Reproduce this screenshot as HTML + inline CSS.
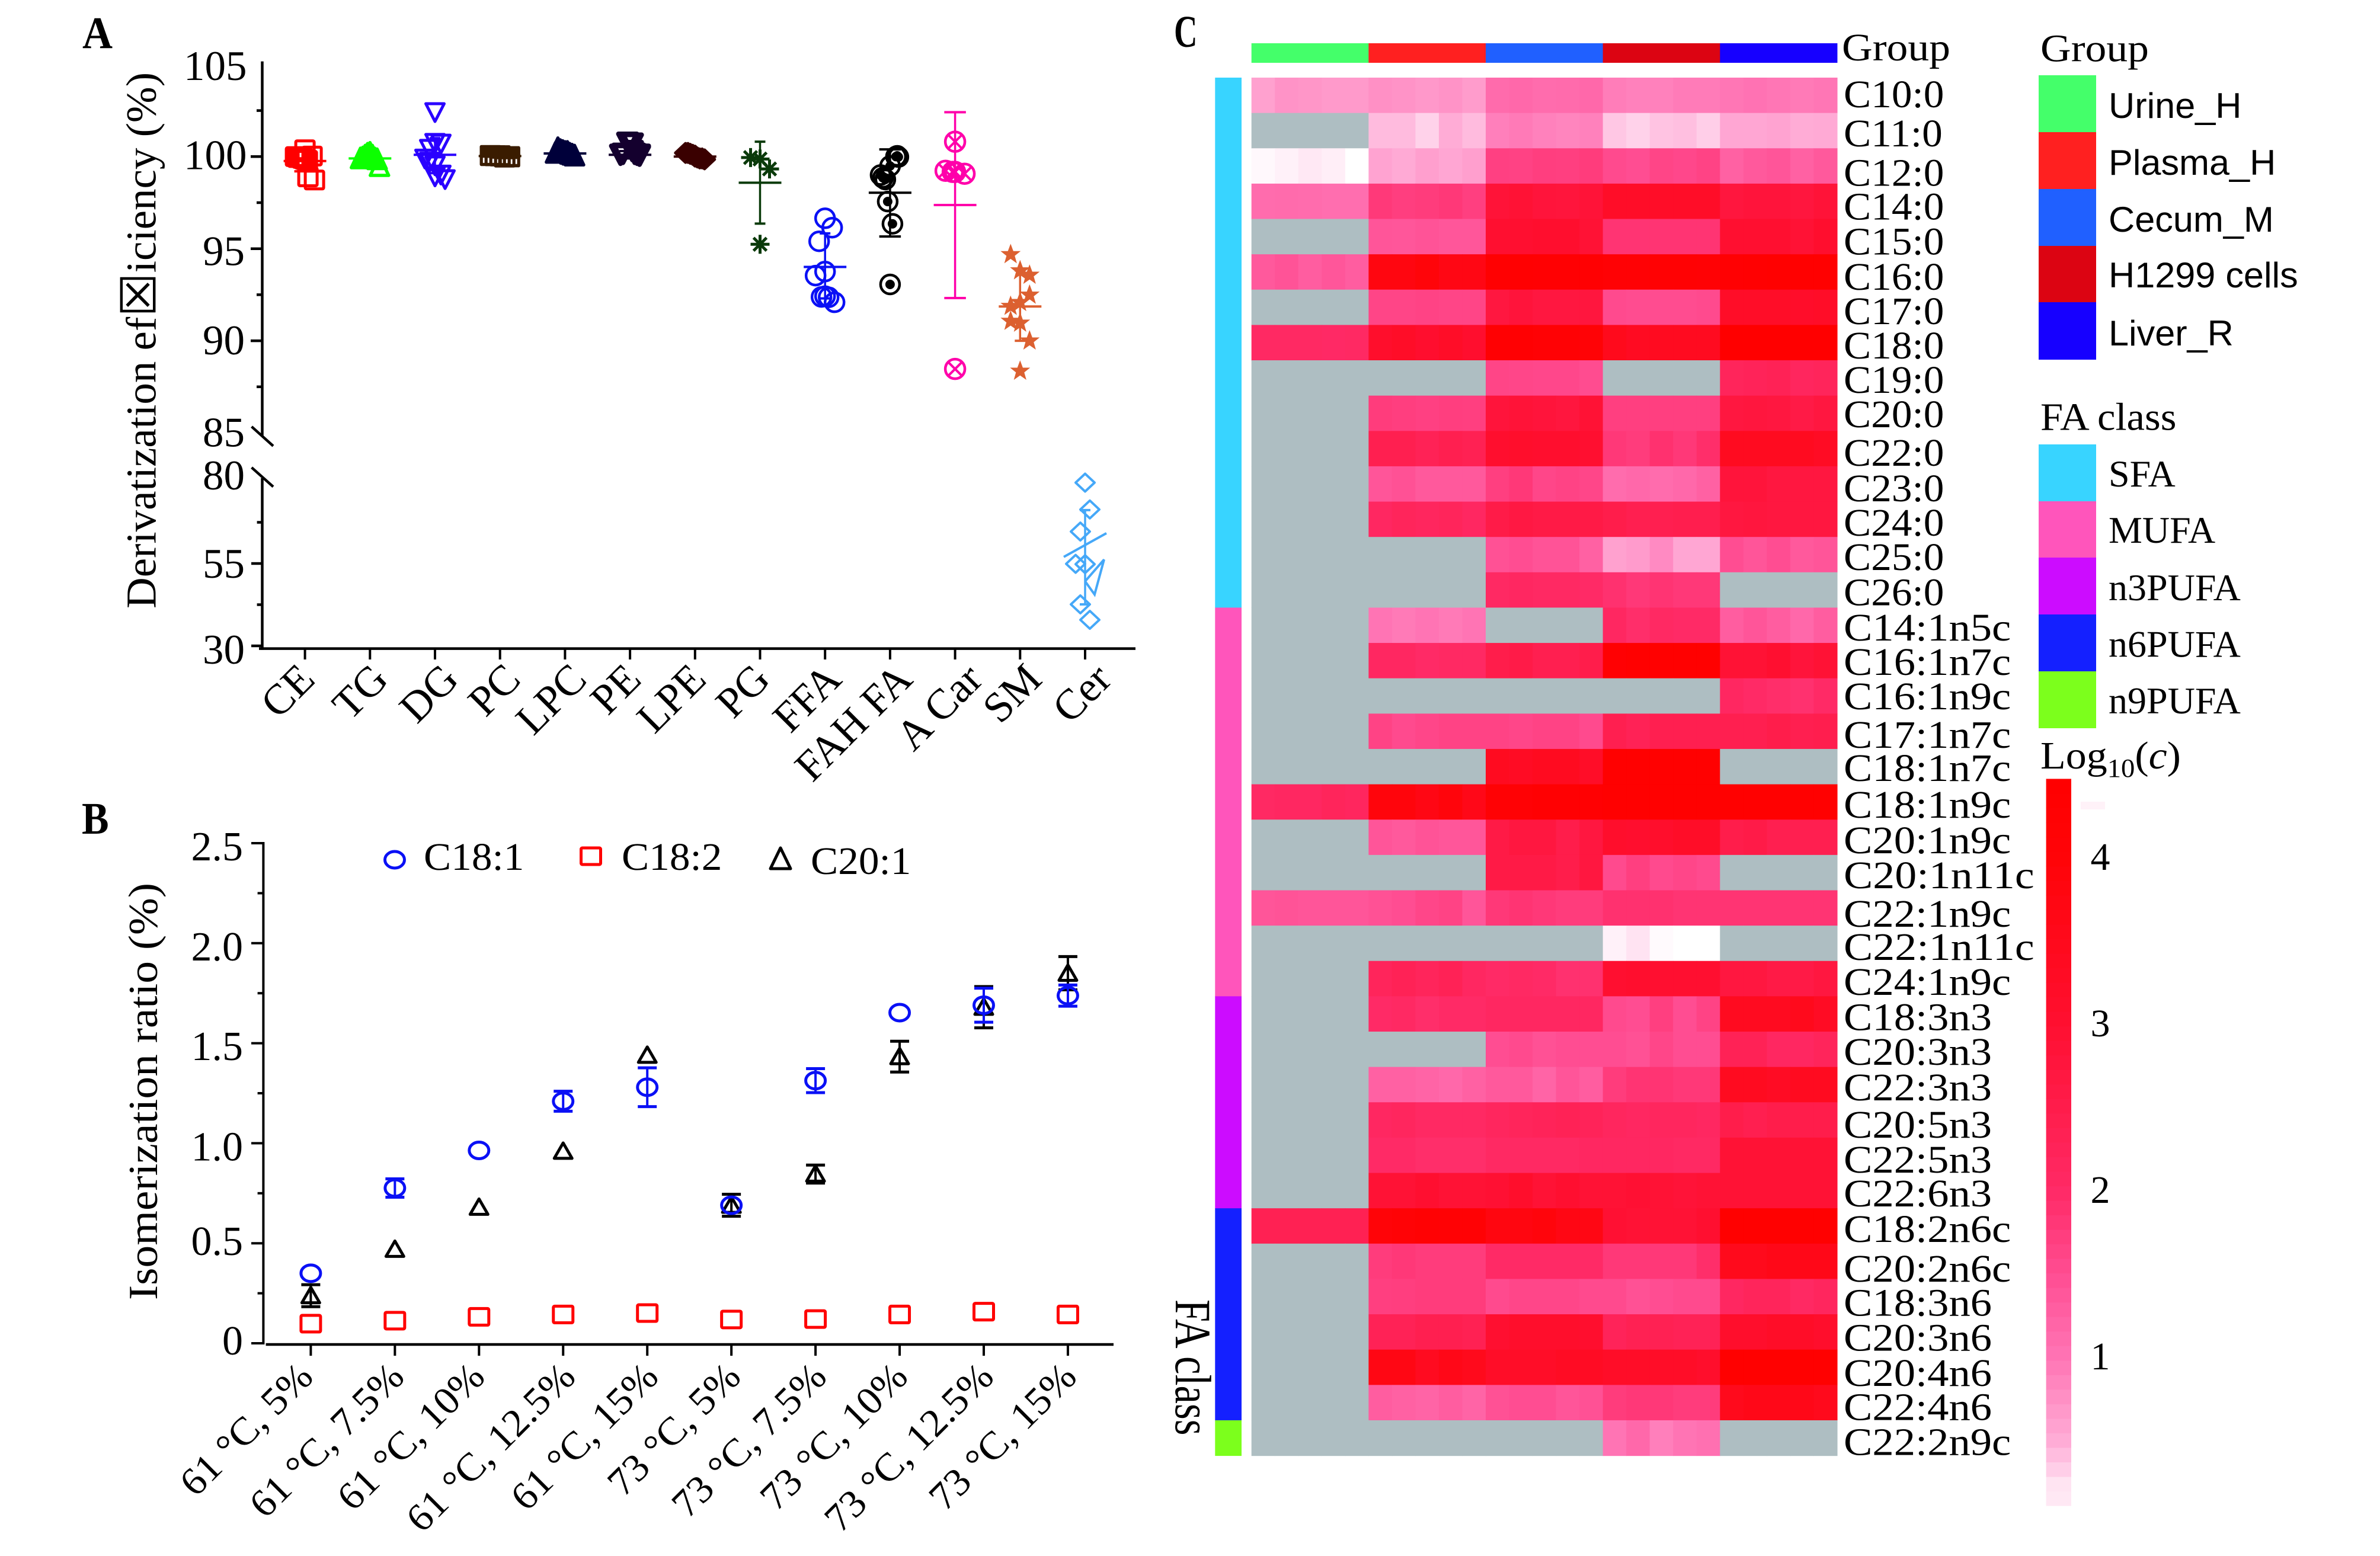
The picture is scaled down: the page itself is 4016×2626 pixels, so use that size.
<!DOCTYPE html>
<html lang="en">
<head>
<meta charset="utf-8">
<title>Derivatization efficiency, isomerization ratio and fatty acid heatmap</title>
<style>
html,body{margin:0;padding:0;background:#fff}
svg{display:block;font-family:"Liberation Serif","DejaVu Serif",serif;fill:#000}
</style>
</head>
<body>
<svg id="fig" xmlns="http://www.w3.org/2000/svg" width="4016" height="2626" viewBox="0 0 4016 2626">
<rect width="4016" height="2626" fill="#fff"/>

<text transform="translate(139,81) scale(.93,1)" font-size="76" font-weight="bold">A</text>
<text transform="translate(138,1407) scale(.9,1)" font-size="76" font-weight="bold">B</text>
<text transform="translate(1981,79) scale(.72,1)" font-size="76" font-weight="bold">C</text>

<g id="panelA"></g>
<text transform="translate(262.6,1027) rotate(-90)" font-size="72" textLength="905" lengthAdjust="spacingAndGlyphs">Derivatization ef<tspan font-size="82" font-family="'DejaVu Sans',sans-serif">☒</tspan>iciency (%)</text>

<g id="panelB"></g>
<text transform="translate(265,2194) rotate(-90)" font-size="70" textLength="704" lengthAdjust="spacingAndGlyphs">Isomerization ratio (%)</text>
<text transform="translate(715,1468) scale(1.05,1)" font-size="66">C18:1</text>
<text transform="translate(1049,1468) scale(1.05,1)" font-size="66">C18:2</text>
<text transform="translate(1368,1475) scale(1.05,1)" font-size="66">C20:1</text>

<g id="panelC"></g>
<text transform="translate(3108,102) scale(1.085,1)" font-size="66">Group</text>
<text transform="translate(1984,2193) rotate(90) scale(1.04,1.3)" font-size="66">FA class</text>

<text transform="translate(3443,103.6) scale(1.085,1)" font-size="66">Group</text>
<text transform="translate(3558,199) scale(1.02,1)" font-size="60" font-family="'Liberation Sans',sans-serif">Urine_H</text>
<text transform="translate(3558,295) scale(1.02,1)" font-size="60" font-family="'Liberation Sans',sans-serif">Plasma_H</text>
<text transform="translate(3558,391) scale(1.02,1)" font-size="60" font-family="'Liberation Sans',sans-serif">Cecum_M</text>
<text transform="translate(3558,485) scale(1.02,1)" font-size="60" font-family="'Liberation Sans',sans-serif">H1299 cells</text>
<text transform="translate(3558,583) scale(1.02,1)" font-size="60" font-family="'Liberation Sans',sans-serif">Liver_R</text>

<text transform="translate(3443,725.5) scale(1.04,1)" font-size="66">FA class</text>
<text transform="translate(3558,821)" font-size="64">SFA</text>
<text transform="translate(3558,916)" font-size="64">MUFA</text>
<text transform="translate(3558,1013)" font-size="64">n3PUFA</text>
<text transform="translate(3558,1108.6)" font-size="64">n6PUFA</text>
<text transform="translate(3558,1204)" font-size="64">n9PUFA</text>

<text transform="translate(3443,1297) scale(1.06,1)" font-size="66">Log<tspan font-size="44" dy="14">10</tspan><tspan dy="-14">(</tspan><tspan font-style="italic">c</tspan>)</text>
<rect x="3511" y="1353" width="41" height="13" fill="#fff2f8"/>
<text x="3544" y="1468" text-anchor="middle" font-size="66">4</text>
<text x="3544" y="1749" text-anchor="middle" font-size="66">3</text>
<text x="3544" y="2030" text-anchor="middle" font-size="66">2</text>
<text x="3544" y="2311" text-anchor="middle" font-size="66">1</text>
</svg>

<script>
/* ---------- Panel A data ---------- */
const categories=['CE','TG','DG','PC','LPC','PE','LPE','PG','FFA','FAH FA','A Car','SM','Cer'];
const valuesCE=[100.37,100.03,100.0,99.95,99.95,99.9,99.85,99.8,98.9,98.73];
const slotsCE=[0,3,-4,-3,-2,-1,0,1,1.25,4];
const valuesTG=[99.85,99.9,100.0,100.1,100.15,100.1,100.0,99.85,99.8,99.43];
const slotsTG=[-4,-3,-2,-1,0,0,1,2,3,4];
const valuesDG=[102.39,100.72,100.68,100.4,99.87,99.7,99.5,99.0,98.9,98.75];
const slotsDG=[0,0,2.5,-2.25,-4.25,-2.25,0,2.5,0,4.25];
const valuesPC=[100.06,100.05,100.04,100.05,100.05,100.03,99.98,99.97,100.0,99.98];
const slotsPC=[-4,-4,-2,-2,0,0,2,2,4,4];
const valuesLPC=[100.15,100.3,100.4,100.3,100.25,100.2,100.2,100.1,100.05,100.0];
const slotsLPC=[-4,-3,-3,-2,-1,0,1,2,3,4];
const valuesPE=[100.1,100.15,100.75,100.7,100.7,100.3,100.15,100.1,100.1,100.05];
const slotsPE=[-4,-3,-1,0,1,1,2,3,4,4];
const valuesLPE=[100.2,100.2,100.15,100.1,100.05,100.0,99.95,99.9,99.9,99.85];
const slotsLPE=[-4,-3,-2,-1,0,0,1,2,3,4];
const valuesPG=[99.95,99.87,99.33,95.24];
const slotsPG=[-4,0,4,0];
const valuesFFA=[96.65,96.14,95.4,93.76,93.54,92.38,92.42,92.36,92.09];
const slotsFFA=[0,3,-2.5,0,-4,-1.5,0,1.5,4];
const valuesFAH=[100.04,100.0,99.98,99.49,99.0,98.76,98.85,97.56,96.35,93.06];
const slotsFAH=[3,2.5,3.5,0,-4,-2,-3,-1,1,0];
const valuesACar=[100.81,99.23,99.17,99.17,99.07,88.47];
const slotsACar=[0,-4,0,-1,4,0];
const valuesSM=[94.69,93.81,93.57,92.49,92.09,91.88,91.07,90.97,90.0,88.36];
const slotsSM=[-4,0,4,4,0,-4,-4,0,4,0];
const valuesCer=[79.55,71.4,64.7,54.8,54.9,42.6,37.9];
const slotsCer=[0,2,-2,0,-4,-2,2];
const cerStrayValues=[49.6,56.2,45.6,49.6];
const meansA=[99.76,99.9,100.1,100.03,100.17,100.1,100.0,98.58,94.01,98.04,97.37,91.86,60.6];
const errHighA=[100.3,100.1,101.0,100.1,100.3,100.3,100.15,100.81,95.83,100.39,102.41,93.81,71.2];
const errLowA=[99.2,99.7,99.1,99.95,100.05,99.9,99.85,96.36,92.3,95.66,92.32,90.0,42.6];
const upperTickValues=[105,100,95,90,85];
const upperTickLabels=['105','100','95','90','85'];
const upperMinorTicks=[102.5,97.5,92.5,87.5];
const lowerTickValues=[80,55,30];
const lowerTickLabels=['80','55','30'];
const lowerMinorTicks=[67.5,42.5];

/* ---------- Panel B data ---------- */
const conditions=['61 °C, 5%','61 °C, 7.5%','61 °C, 10%','61 °C, 12.5%','61 °C, 15%','73 °C, 5%','73 °C, 7.5%','73 °C, 10%','73 °C, 12.5%','73 °C, 15%'];
const c181Values=[0.35,0.776,0.964,1.21,1.28,0.69,1.313,1.653,1.69,1.738];
const c181Err=[0,0.046,0,0.05,0.097,0,0.06,0,0.085,0.053];
const c182Values=[0.098,0.113,0.132,0.144,0.151,0.119,0.121,0.144,0.158,0.144];
const c201Values=[0.238,0.47,0.68,0.96,1.44,0.69,0.846,1.433,1.68,1.85];
const c201Err=[0.055,0,0,0,0,0.055,0.045,0.077,0.103,0.083];
const yTicksB=[2.5,2,1.5,1,0.5,0];
const yTickLabelsB=['2.5','2.0','1.5','1.0','0.5','0'];
const yMinorB=[2.25,1.75,1.25,0.75,0.25];

/* ---------- Panel C data ---------- */
const N=null;
const fattyAcids=['C10:0','C11:0','C12:0','C14:0','C15:0','C16:0','C17:0','C18:0','C19:0','C20:0','C22:0','C23:0','C24:0','C25:0','C26:0','C14:1n5c','C16:1n7c','C16:1n9c','C17:1n7c','C18:1n7c','C18:1n9c','C20:1n9c','C20:1n11c','C22:1n9c','C22:1n11c','C24:1n9c','C18:3n3','C20:3n3','C22:3n3','C20:5n3','C22:5n3','C22:6n3','C18:2n6c','C20:2n6c','C18:3n6','C20:3n6','C20:4n6','C22:4n6','C22:2n9c'];
const heatValues=[
[.6,.72,.7,.66,.66,.75,.72,.68,.72,.64,1.12,1.15,1.1,1.12,1.15,.92,.88,.88,.94,.94,.98,1.02,.98,.95,.98],
[N,N,N,N,N,.42,.42,.3,.5,.42,.9,.95,.88,.85,.88,.36,.3,.38,.4,.32,.55,.55,.58,.5,.52],
[.14,.18,.22,.2,.1,.58,.52,.62,.55,.62,1.68,1.66,1.72,1.7,1.75,1.55,1.5,1.62,1.58,1.65,1.25,1.35,1.4,1.25,1.35],
[1.1,1.12,1.1,1.08,1.08,1.78,1.72,1.75,1.8,1.7,2.85,2.9,2.8,2.78,2.85,3.2,3.2,3.2,3.2,3.2,2.75,2.8,2.8,2.75,2.85],
[N,N,N,N,N,1.4,1.38,1.42,1.38,1.38,3,3,3.05,3.05,2.9,1.85,1.85,1.85,1.85,1.85,3,3,3,2.9,3.05],
[1.35,1.42,1.3,1.38,1.3,3.8,3.8,3.95,3.7,3.7,4.35,4.35,4.3,4.3,4.3,4.2,4.2,4.25,4.25,4.2,4.3,4.35,4.4,4.4,4.4],
[N,N,N,N,N,1.62,1.62,1.65,1.62,1.62,2.7,2.8,2.7,2.7,2.75,1.55,1.52,1.52,1.52,1.55,3.2,3.2,3.2,3.15,3.2],
[2.05,2.05,2.05,2.02,2.05,3.1,3.2,3.05,3.2,3.05,4.3,4.3,4.2,4.2,4.1,3.5,3.35,3.4,3.4,3.4,4.45,4.45,4.45,4.45,4.45],
[N,N,N,N,N,N,N,N,N,N,1.62,1.6,1.58,1.58,1.52,N,N,N,N,N,2.2,2.25,2.3,2.15,2.2],
[N,N,N,N,N,1.75,1.72,1.68,1.72,1.7,2.8,2.85,2.8,2.75,2.9,1.7,1.7,1.7,1.7,1.7,2.7,2.75,2.7,2.6,2.7],
[N,N,N,N,N,2.4,2.4,2.3,2.4,2.35,3.05,3.1,3.05,3.05,3,1.8,1.75,1.9,1.8,1.95,3.4,3.4,3.4,3.4,3.3],
[N,N,N,N,N,1.4,1.45,1.35,1.35,1.35,1.7,1.8,1.6,1.65,1.6,1.1,1.15,1.1,1.15,1.25,2.8,2.8,2.7,2.7,2.7],
[N,N,N,N,N,2.1,2.2,2.15,2.2,2.1,2.55,2.65,2.6,2.6,2.6,2.5,2.4,2.4,2.45,2.45,2.7,2.75,2.7,2.7,2.7],
[N,N,N,N,N,N,N,N,N,N,1.45,1.5,1.42,1.42,1.25,.6,.65,.8,.55,.55,1.5,1.4,1.5,1.35,1.4],
[N,N,N,N,N,N,N,N,N,N,2.05,2.1,2.05,2.05,2,1.9,1.8,1.85,1.8,1.8,N,N,N,N,N],
[N,N,N,N,N,1,.95,1,.95,1,N,N,N,N,N,2.1,1.95,2.05,2,2,1.3,1.4,1.3,1.15,1.3],
[N,N,N,N,N,2.1,2.1,2,2.05,2.05,2.5,2.55,2.4,2.4,2.5,4.3,4.4,4.4,4.4,4.4,2.9,2.9,3,2.8,2.9],
[N,N,N,N,N,N,N,N,N,N,N,N,N,N,N,N,N,N,N,N,2.1,2,1.95,1.9,2],
[N,N,N,N,N,1.65,1.55,1.6,1.65,1.65,1.65,1.6,1.65,1.65,1.55,2.4,2.3,2.4,2.4,2.4,2.4,2.4,2.5,2.4,2.45],
[N,N,N,N,N,N,N,N,N,N,3.4,3.3,3.4,3.4,3.2,4.4,4.4,4.4,4.4,4.4,N,N,N,N,N],
[2.05,2.1,2.1,2.2,2.15,3.9,3.9,3.7,3.9,3.6,4.2,4.2,4.3,4.3,4.3,4.4,4.4,4.4,4.4,4.4,4.4,4.4,4.4,4.4,4.4],
[N,N,N,N,N,1.4,1.35,1.42,1.38,1.38,2.6,2.7,2.7,2.5,2.7,3.1,3.05,3.1,3.2,3.2,2.5,2.55,2.4,2.4,2.4],
[N,N,N,N,N,N,N,N,N,N,2.6,2.6,2.6,2.5,2.7,1.55,1.7,1.55,1.6,1.55,N,N,N,N,N],
[1.4,1.42,1.4,1.4,1.4,1.45,1.5,1.6,1.65,1.4,1.8,1.85,1.8,1.75,1.75,1.9,1.9,1.9,1.85,1.85,1.85,1.85,1.85,1.85,1.85],
[N,N,N,N,N,N,N,N,N,N,N,N,N,N,N,.18,.24,.13,.1,.1,N,N,N,N,N],
[N,N,N,N,N,2.2,2.3,2.2,2.3,2.1,2,2.05,2,1.9,1.9,3,3.05,3,3,3,2.7,2.7,2.6,2.6,2.7],
[N,N,N,N,N,2,2.05,1.95,2,2,2.1,2.1,2.1,2.1,2.1,1.55,1.5,1.7,1.5,1.65,3.4,3.4,3.4,3.5,3.3],
[N,N,N,N,N,N,N,N,N,N,1.5,1.55,1.45,1.5,1.5,1.5,1.45,1.6,1.5,1.5,2.3,2.3,2.1,2.1,2.2],
[N,N,N,N,N,1.25,1.25,1.2,1.15,1.25,1.35,1.35,1.2,1.4,1.3,1.75,1.85,1.85,1.8,1.8,3.4,3.4,3.3,3.4,3.4],
[N,N,N,N,N,2.1,2.15,2.05,2.05,2.05,2.15,2.2,2.25,2.3,2.25,2.15,2.1,2.15,2.15,2.1,2.5,2.4,2.5,2.5,2.5],
[N,N,N,N,N,2,2,1.95,1.95,1.95,2.05,2.05,2.05,2.05,2.1,2.1,2.1,2.1,2.05,2.05,2.9,2.9,2.9,2.9,2.9],
[N,N,N,N,N,2.9,2.9,3,2.9,2.9,2.95,3.1,2.9,3,2.9,2.9,2.95,2.9,2.85,2.9,2.9,2.9,2.9,2.9,2.9],
[2.35,2.35,2.35,2.35,2.35,4,4.1,4.25,4.2,4.2,3.8,3.8,3.9,3.7,3.7,2.95,2.9,2.9,2.9,3,4.4,4.4,4.4,4.4,4.4],
[N,N,N,N,N,1.75,1.8,1.75,1.75,1.75,2,2,2,2,2,1.8,1.8,1.8,1.8,1.95,3.5,3.5,3.6,3.6,3.6],
[N,N,N,N,N,1.7,1.72,1.75,1.75,1.75,1.55,1.6,1.6,1.6,1.55,1.55,1.45,1.5,1.55,1.55,2.1,2.2,2.2,2.05,2.15],
[N,N,N,N,N,2.3,2.3,2.4,2.4,2.35,3,3.1,3.1,3.1,3.05,2.25,2.35,2.35,2.3,2.3,3.1,3.1,3.2,3.2,3.1],
[N,N,N,N,N,3.7,3.7,3.4,3.6,3.5,3.2,3.2,3.2,3.3,3.3,3.2,3.2,3.2,3.2,3.1,4.4,4.4,4.4,4.4,4.4],
[N,N,N,N,N,1.3,1.25,1.2,1.3,1.2,1.45,1.5,1.5,1.4,1.45,1.75,1.8,1.8,1.75,1.75,3.5,3.6,3.6,3.6,3.5],
[N,N,N,N,N,N,N,N,N,N,N,N,N,N,N,1,1.15,.9,1,1.05,N,N,N,N,N]
];
const groupNames=['urine','plasma','cecum','h1299','liver'];
const classNames=['sfa','mufa','n3pufa','n6pufa','n9pufa'];
const classCounts=[15,11,6,6,1];

/* ---------- Layout and styles (not data) ---------- */
const xLabelNudgeA=[20,34,43,38,40,22,22,20,31,41,50,40,48];
const upperLabelNudge=[26,21,28,23,23];
const lowerLabelNudge=[14,24,30];
const yLabelNudgeB=[29,29,28.5,29,20,19];
const xLabelNudgeB=[7,19,13,24,22,19,22,17,20,18];
const rowLabelBaselines=[181,247,313.4,370.6,429.5,489,547,605,663,721,786,846,904,962,1021.5,1081,1139,1197,1262,1318,1380,1440,1499,1564,1620,1679,1738.5,1797,1857,1920,1979,2036,2096,2163,2220.6,2279.6,2339,2396.6,2455.6];
const colorsA=['#ff0000','#0cff00','#2a00ff','#3a1c00','#00003a','#14002e','#3a0000','#0a3a0a','#0a10f5','#000000','#ff00aa','#dc6030','#45a8f8'];
const capWidthsA=[36,36,18,36,36,36,36,18,18,36.5,36.5,18,18];
const groupColors=['#44ff6a','#ff2020','#2060ff','#dc0412','#1600ff'];
const classColors=['#38d4ff','#ff55bb','#cc0cff','#1420ff','#7cff1c'];
const legendGroupTops=[127,223,319,415,510];
const legendClassTops=[750,846,941,1037,1133];
const rampValues=[0.1,0.2,0.3,0.5,1,1.5,2,3,4,4.47];
const rampRGB=[[255,255,255],[255,238,247],[255,210,234],[255,172,214],[255,116,180],[255,77,146],[255,42,102],[255,15,48],[255,4,8],[255,0,0]];
const SVGNS='http://www.w3.org/2000/svg';
const SLOT=4;

function el(parent,tag,attrs){
  const e=document.createElementNS(SVGNS,tag);
  for(const k in attrs)e.setAttribute(k,attrs[k]);
  parent.appendChild(e);
  return e;
}
function line(parent,x1,y1,x2,y2,color,w,name){
  const e=el(parent,'line',{x1:x1,y1:y1,x2:x2,y2:y2,stroke:color,'stroke-width':w});
  
  
  return e;
}
function label(parent,str,x,y,size,anchor,rot,sx,name){
  const e=el(parent,'text',{transform:'translate('+x+','+y+') rotate('+rot+') scale('+sx+',1)','font-size':size,'text-anchor':anchor});
  e.textContent=str;
  
  
  return e;
}

/* ---------- Panel A ---------- */
const catX=i=>514.6+i*109.7;
const yUpper=v=>264.3-(v-100)*31.08;
const yLower=v=>1090-(v-30)*5.56;
const yFor=(i,v)=>i===12?yLower(v):yUpper(v);

function markerA(parent,type,x,y,color,name){
  const g=el(parent,'g',{transform:'translate('+x+','+y+')',stroke:color,fill:'none','stroke-linejoin':'round'});
  
  
  if(type==='square')el(g,'rect',{x:-15.5,y:-15,width:31,height:30,'stroke-width':5,rx:2});
  if(type==='halfsquare'){
    el(g,'rect',{x:-15.5,y:-15,width:31,height:30,'stroke-width':5});
    el(g,'rect',{x:-15.5,y:-15,width:31,height:16,fill:color,'stroke-width':5});
  }
  if(type==='tri')el(g,'polygon',{points:'0,-19 15.5,14 -15.5,14','stroke-width':5.5});
  if(type==='down')el(g,'polygon',{points:'-15.5,-15 15.5,-15 0,15','stroke-width':5});
  if(type==='down-heavy')el(g,'polygon',{points:'-15.5,-15 15.5,-15 0,15','stroke-width':8});
  if(type==='diamond')el(g,'polygon',{points:'0,-16 17,0 0,16 -17,0','stroke-width':5});
  if(type==='thin-diamond')el(g,'polygon',{points:'0,-15 16,0 0,15 -16,0','stroke-width':4});
  if(type==='asterisk'){
    el(g,'path',{d:'M0-16V16M-16,0H16M-11-11L11,11M-11,11L11-11','stroke-width':5});
  }
  if(type==='circle')el(g,'circle',{r:16,'stroke-width':4.5});
  if(type==='dot'){
    el(g,'circle',{r:16,'stroke-width':4.5});
    el(g,'circle',{r:8,fill:color,stroke:'none'});
  }
  if(type==='cross'){
    el(g,'circle',{r:16.5,'stroke-width':4.5});
    el(g,'path',{d:'M-11-11L11,11M-11,11L11-11','stroke-width':4});
  }
  if(type==='star'){
    el(g,'polygon',{points:'0,-18 4.6,-5.6 17,-5.6 7,2.4 10.6,15 0,7.6 -10.6,15 -7,2.4 -17,-5.6 -4.6,-5.6',fill:color,stroke:'none'});
  }
}

const gA=document.getElementById('panelA');
const markerTypes=['square','tri','down','halfsquare','tri','down-heavy','diamond','asterisk','circle','dot','cross','star','thin-diamond'];
const allValues=[valuesCE,valuesTG,valuesDG,valuesPC,valuesLPC,valuesPE,valuesLPE,valuesPG,valuesFFA,valuesFAH,valuesACar,valuesSM,valuesCer];
const allSlots=[slotsCE,slotsTG,slotsDG,slotsPC,slotsLPC,slotsPE,slotsLPE,slotsPG,slotsFFA,slotsFAH,slotsACar,slotsSM,slotsCer];

/* axes */
line(gA,442.5,103.6,442.5,735,'#000',4.5,'panel-a-y-axis-upper');
line(gA,442.5,807,442.5,1096.8,'#000',4.5,'panel-a-y-axis-lower');
line(gA,437,1094.6,1916,1094.6,'#000',4.5,'panel-a-x-axis');
line(gA,424.6,720,461,752.7,'#000',4.5,'axis-break-upper');
line(gA,424.6,789,461,821.4,'#000',4.5,'axis-break-lower');
upperTickValues.forEach((v,i)=>{
  if(v===100||v===95||v===90)line(gA,423,yUpper(v),442,yUpper(v),'#000',4.5,'y-tick-'+v);
  label(gA,upperTickLabels[i],v>=100?416.5:413,yUpper(v)+upperLabelNudge[i],71,'end',0,1,'y-tick-label-'+v);
});
upperMinorTicks.forEach(v=>line(gA,433,yUpper(v),442,yUpper(v),'#000',4.5,'y-minor-tick'));
lowerTickValues.forEach((v,i)=>{
  if(v!==80)line(gA,424,yLower(v),442,yLower(v),'#000',4.5,'y-tick-'+v);
  label(gA,lowerTickLabels[i],413,yLower(v)+lowerLabelNudge[i],71,'end',0,1,'y-tick-label-'+v);
});
lowerMinorTicks.forEach(v=>line(gA,433.6,yLower(v),442,yLower(v),'#000',4.5,'y-minor-tick'));

categories.forEach((c,i)=>{
  const x=catX(i),col=colorsA[i];
  line(gA,x,1094.6,x,1113,'#000',4,'x-tick-'+c);
  label(gA,c,x+xLabelNudgeA[i],1150,72,'end',-45,1.0,'x-tick-label-'+c);
  const g=el(gA,'g',{});
  
  
  allValues[i].forEach((v,j)=>{
    markerA(g,markerTypes[i],x+allSlots[i][j]*SLOT,yFor(i,v),col,'point-'+c);
  });
  const capW=capWidthsA[i]/2;
  line(g,x,yFor(i,errHighA[i]),x,yFor(i,errLowA[i]),col,3.5,'error-bar-'+c);
  line(g,x-capW,yFor(i,errHighA[i]),x+capW,yFor(i,errHighA[i]),col,4,'error-cap-high-'+c);
  line(g,x-capW,yFor(i,errLowA[i]),x+capW,yFor(i,errLowA[i]),col,4,'error-cap-low-'+c);
  if(i===12){
    line(g,x-36,yFor(i,meansA[i])+20,x+36,yFor(i,meansA[i])-20,col,4,'mean-line-'+c);
  }else{
    line(g,x-36,yFor(i,meansA[i]),x+36,yFor(i,meansA[i]),col,4,'mean-line-'+c);
  }
});
const cerStray=el(gA,'polyline',{fill:'none',stroke:colorsA[12],'stroke-width':4,points:cerStrayValues.map((v,k)=>(catX(12)+[0,32,16,0][k])+','+yLower(v)).join(' ')});



/* ---------- Panel B ---------- */
const gB=document.getElementById('panelB');
const xB=i=>524.4+i*141.95;
const yB=v=>2267-v*337.6;
line(gB,444.4,1421,444.4,2269,'#000',4,'panel-b-y-axis');
line(gB,448.6,2269,1879,2269,'#000',4.5,'panel-b-x-axis');
yTicksB.forEach((v,i)=>{
  line(gB,424,yB(v),444,yB(v),'#000',4,'b-y-tick-'+yTickLabelsB[i]);
  label(gB,yTickLabelsB[i],410,yB(v)+yLabelNudgeB[i],70,'end',0,1,'b-y-tick-label-'+yTickLabelsB[i]);
});
yMinorB.forEach(v=>line(gB,434.6,yB(v),444,yB(v),'#000',4,'b-y-minor-tick'));

function circB(parent,x,y,name){
  const e=el(parent,'ellipse',{cx:x,cy:y,rx:16.5,ry:14,fill:'none',stroke:'#0a10f5','stroke-width':5});
  
  
}
function squareB(parent,x,y,name){
  const e=el(parent,'rect',{x:x-16.5,y:y-14,width:33,height:28,fill:'none',stroke:'#ff0000','stroke-width':5,rx:2});
  
  
}
function triB(parent,x,y,name){
  const e=el(parent,'polygon',{points:(x)+','+(y-14)+' '+(x+15)+','+(y+12)+' '+(x-15)+','+(y+12),fill:'none',stroke:'#000','stroke-width':5,'stroke-linejoin':'round'});
  
  
}
function errB(parent,x,v,sd,color,name){
  if(!sd)return;
  line(parent,x,yB(v+sd),x,yB(v-sd),color,4,name);
  line(parent,x-16,yB(v+sd),x+16,yB(v+sd),color,5,name+'-cap-high');
  line(parent,x-16,yB(v-sd),x+16,yB(v-sd),color,5,name+'-cap-low');
}
conditions.forEach((c,i)=>{
  const x=xB(i);
  line(gB,x,2269,x,2288,'#000',4,'b-x-tick-'+i);
  label(gB,c,x+xLabelNudgeB[i],2327,66,'end',-45,1.04,'b-x-tick-label-'+i);
  squareB(gB,x,yB(c182Values[i]),'c18-2-point-'+i);
  errB(gB,x,c201Values[i],c201Err[i],'#000','c20-1-error-'+i);
  triB(gB,x,yB(c201Values[i]),'c20-1-point-'+i);
  errB(gB,x,c181Values[i],c181Err[i],'#0a10f5','c18-1-error-'+i);
  circB(gB,x,yB(c181Values[i]),'c18-1-point-'+i);
});
circB(gB,666,1451,'legend-marker-c18-1');
squareB(gB,997,1445,'legend-marker-c18-2');
const legTri=el(gB,'polygon',{points:'1317,1431 1334,1466 1300,1466',fill:'none',stroke:'#000','stroke-width':5,'stroke-linejoin':'round'});



/* ---------- Panel C ---------- */
const gC=document.getElementById('panelC');
const heatLeft=2111.7,heatTop=131,cellW=39.53,cellH=59.63;
const GRAY='#aebec2';
function heatColor(v){
  if(v<=rampValues[0])return 'rgb(255,255,255)';
  for(let i=1;i<rampValues.length;i++){
    if(v<=rampValues[i]){
      const t=(v-rampValues[i-1])/(rampValues[i]-rampValues[i-1]);
      const a=rampRGB[i-1],b=rampRGB[i];
      return 'rgb('+a.map((q,k)=>Math.round(q+(b[k]-q)*t)).join(',')+')';
    }
  }
  return 'rgb(255,0,0)';
}
heatValues.forEach((row,r)=>{
  row.forEach((v,c)=>{
    const cell=el(gC,'rect',{x:heatLeft+c*cellW,y:heatTop+r*cellH,width:cellW+0.6,height:cellH+0.6,fill:v===null?GRAY:heatColor(v)});
    
    
  });
  const nameLen=fattyAcids[r].length;
  label(gC,fattyAcids[r],3111,rowLabelBaselines[r],66,'start',0,nameLen<=5?1.05:(nameLen===9?1.12:1.1),'row-label-'+fattyAcids[r]);
});
groupNames.forEach((g,i)=>{
  const bar=el(gC,'rect',{x:heatLeft+i*5*cellW,y:73,width:5*cellW+0.5,height:33,fill:groupColors[i]});
  
  
  const sw=el(gC,'rect',{x:3440,y:legendGroupTops[i],width:97,height:97,fill:groupColors[i]});
  
  
});
let rowsDone=0;
classNames.forEach((cn,i)=>{
  const bar=el(gC,'rect',{x:2050.3,y:heatTop+rowsDone*cellH,width:44.7,height:classCounts[i]*cellH+0.5,fill:classColors[i]});
  
  
  rowsDone+=classCounts[i];
  const sw=el(gC,'rect',{x:3440,y:legendClassTops[i],width:97,height:96,fill:classColors[i]});
  
  
});
/* colour bar: value range follows the tick spacing of the reference */
const cbar=el(gC,'g',{});


const cbarY=v=>2289.5-(v-1)*281;
for(let s=0;s<50;s++){
  const v1=0.105+s*(4.47-0.105)/50,v2=v1+(4.47-0.105)/50;
  const seg=el(cbar,'rect',{x:3452.6,y:cbarY(v2),width:42.4,height:cbarY(v1)-cbarY(v2)+0.6,fill:heatColor(Math.max((v1+v2)/2,0.22))});
  
  
}
</script>
</body>
</html>
